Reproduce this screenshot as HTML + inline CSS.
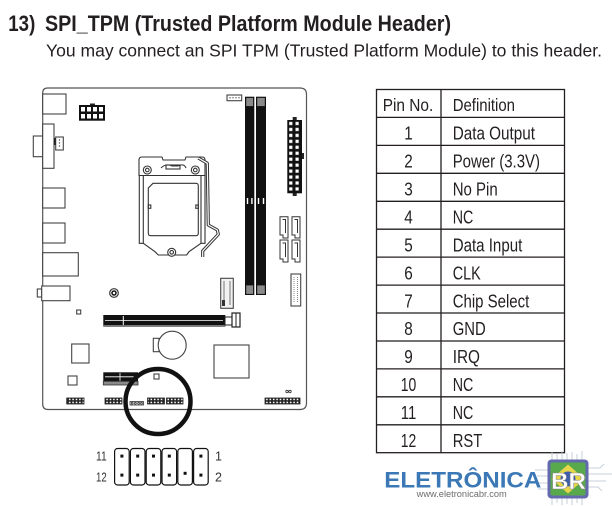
<!DOCTYPE html>
<html><head><meta charset="utf-8"><style>
html,body{margin:0;padding:0;background:#fff;}
svg{display:block}
text{font-family:"Liberation Sans Narrow","Liberation Sans",Arial,sans-serif;fill:#231f20;}
</style></head><body>
<svg width="612" height="506" viewBox="0 0 612 506" xmlns="http://www.w3.org/2000/svg">
<defs>
<pattern id="hp" patternUnits="userSpaceOnUse" x="0" y="398" width="3.4" height="3"><rect width="3.4" height="3" fill="#222"/><rect x="0.9" y="0.7" width="1.6" height="1.5" fill="#fff"/></pattern>
<pattern id="atx" patternUnits="userSpaceOnUse" x="288.6" y="121.3" width="6.3" height="5.95"><rect x="0.6" y="0.6" width="3.2" height="3.2" fill="#fff"/></pattern>
</defs>

<!-- Title -->
<text x="8.3" y="31" font-size="22" font-weight="bold" textLength="27" lengthAdjust="spacingAndGlyphs">13)</text>
<text x="45" y="31" font-size="22" font-weight="bold" textLength="406" lengthAdjust="spacingAndGlyphs">SPI_TPM (Trusted Platform Module Header)</text>
<text x="46" y="56.7" font-size="17.5" textLength="556" lengthAdjust="spacingAndGlyphs">You may connect an SPI TPM (Trusted Platform Module) to this header.</text>

<!-- Board outline -->
<path d="M42.7,93 Q42.7,88 47.7,88 L300,88 Q306.5,88 306.5,94.5 L306.5,403 Q306.5,409.5 300,409.5 L48,409.5 Q42.7,409.5 42.7,404 Z" fill="none" stroke="#555" stroke-width="1.2"/>

<g fill="#fff" stroke="#444" stroke-width="1.1">
<!-- IO -->
<rect x="42.7" y="94" width="23.3" height="20"/>
<rect x="33.3" y="136" width="9.4" height="20.7"/>
<rect x="42.7" y="124" width="11.3" height="44.3"/>
<rect x="55.7" y="137" width="7.6" height="13"/>
<rect x="42.7" y="188" width="22.3" height="20"/>
<rect x="42.7" y="223" width="22.3" height="20"/>
<rect x="42.7" y="252.7" width="35.6" height="23.3"/>
<rect x="37.3" y="289" width="4.4" height="8"/>
<rect x="41.7" y="286" width="28.3" height="14.7"/>
<!-- small squares -->
<rect x="76.7" y="310" width="4" height="4"/>
<rect x="71.7" y="344" width="17.3" height="19"/>
<rect x="68" y="376" width="9" height="9"/>
<rect x="154" y="374" width="5" height="5"/>
<!-- chipset -->
<rect x="214" y="345" width="35" height="33"/>
<!-- battery -->
<rect x="153.3" y="338.3" width="5.7" height="13.4"/>
<circle cx="172.2" cy="345.2" r="14"/>
<!-- top fan -->
<rect x="227" y="95" width="14.7" height="5.7"/>
<!-- USB header right -->
<rect x="291" y="274" width="9.7" height="32"/>
<!-- M.2 -->
<rect x="220.7" y="278.3" width="12.6" height="30" fill="#f2f2f2"/>
</g>
<rect x="54" y="138" width="1.7" height="7" fill="#222"/>
<g fill="#555"><circle cx="59.5" cy="140" r="0.7"/><circle cx="59.5" cy="143" r="0.7"/><circle cx="59.5" cy="146" r="0.7"/></g>
<g fill="#555"><circle cx="230" cy="97.8" r="0.7"/><circle cx="233" cy="97.8" r="0.7"/><circle cx="236" cy="97.8" r="0.7"/><circle cx="239" cy="97.8" r="0.7"/></g>
<line x1="294" y1="277" x2="294" y2="303" stroke="#888" stroke-width="1" stroke-dasharray="1,1"/>
<line x1="297.5" y1="277" x2="297.5" y2="303" stroke="#888" stroke-width="1" stroke-dasharray="1,1"/>
<line x1="224" y1="281" x2="224" y2="305" stroke="#777" stroke-width="1"/>
<line x1="230" y1="281" x2="230" y2="305" stroke="#777" stroke-width="1"/>
<rect x="222" y="300" width="3" height="6" fill="#333"/>

<!-- screw hole -->
<circle cx="114" cy="293" r="4.3" fill="none" stroke="#333" stroke-width="1.2"/>
<circle cx="114" cy="293" r="2" fill="none" stroke="#111" stroke-width="1.5"/>

<!-- 8-pin -->
<rect x="90" y="103.5" width="5" height="2" fill="#222"/>
<rect x="79" y="105" width="26" height="15.7" fill="#111"/>
<g fill="#fff">
<rect x="81" y="107" width="4" height="4.5"/><rect x="87" y="107" width="4" height="4.5"/><rect x="93" y="107" width="4" height="4.5"/><rect x="99" y="107" width="4" height="4.5"/>
<rect x="81" y="114" width="4" height="4.5"/><rect x="87" y="114" width="4" height="4.5"/><rect x="93" y="114" width="4" height="4.5"/><rect x="99" y="114" width="4" height="4.5"/>
</g>

<!-- CPU socket -->
<g fill="none" stroke="#333" stroke-width="1.1">
<path d="M139,175.5 L139,160 Q139,157 142,157 L162,157 L163,160 L185,160 L186,157 L202,157 Q205,157 205,160 L205,175.5 Z" fill="#fff"/>
<path d="M161,168 Q166,163 172,166 L178,166 Q184,163 186,168" />
<rect x="166" y="165" width="14" height="4"/>
<circle cx="147.3" cy="170" r="4"/><circle cx="147.3" cy="170" r="1.8"/>
<circle cx="195.3" cy="170" r="4"/><circle cx="195.3" cy="170" r="1.8"/>
<path d="M139.3,175.5 L139.3,243.3 L143.3,243.3 L155,251.7 L158.3,255 L186.7,255 L189,251.7 L201,243.3 L205,243.3 L205,175.5"/>
<path d="M143.3,175.5 L143.3,243.3 M201,175.5 L201,243.3"/>
<path d="M153,183.3 L196,183.3 Q198.3,183.3 198.3,186 L198.3,233 Q198.3,235.7 196,235.7 L150.5,235.7 Q148.3,235.7 148.3,233 L148.3,188 Z"/>
<rect x="148.3" y="205" width="2.5" height="3.3"/>
<rect x="195.8" y="205" width="2.5" height="3.3"/>
<circle cx="171.7" cy="252.3" r="4" fill="#fff"/><circle cx="171.7" cy="252.3" r="1.8"/>
</g>
<path d="M198.3,158 L207.3,163.3 L208.3,225 L217.3,230 L218.3,234.3 L202.7,251 L202.7,257" fill="none" stroke="#333" stroke-width="3.2" stroke-linejoin="round"/>
<path d="M198.3,158 L207.3,163.3 L208.3,225 L217.3,230 L218.3,234.3 L202.7,251 L202.7,257" fill="none" stroke="#fff" stroke-width="1.2" stroke-linejoin="round"/>

<!-- DIMM -->
<rect x="245" y="96.7" width="9.3" height="198.3" fill="#111"/>
<rect x="256" y="96.7" width="10" height="198.3" fill="#111"/>
<g fill="#8a8a8a" stroke="#111" stroke-width="0.8">
<rect x="245.8" y="97.5" width="7.7" height="9"/><rect x="256.8" y="97.5" width="8.4" height="9"/>
<rect x="245.8" y="285" width="7.7" height="9.3"/><rect x="256.8" y="285" width="8.4" height="9.3"/>
</g>
<g fill="#fff">
<rect x="246.8" y="198" width="1.4" height="6"/><rect x="251.2" y="198" width="1.4" height="6"/>
<rect x="257.8" y="198" width="1.4" height="6"/><rect x="262.8" y="198" width="1.4" height="6"/>
</g>

<!-- ATX 24 -->
<rect x="292.7" y="117" width="4" height="3" fill="#222"/>
<rect x="292.7" y="193" width="4" height="3" fill="#222"/>
<rect x="302" y="153" width="2" height="6" fill="#222"/>
<rect x="287.3" y="120" width="14.7" height="73.3" fill="#111"/>
<rect x="288.6" y="121.3" width="12.6" height="71.4" fill="url(#atx)"/>

<!-- SATA -->
<g fill="#fff" stroke="#333" stroke-width="1">
<path d="M280,216.7 L288,216.7 L288,238 L283,238 L283,235 L280,235 Z"/>
<path d="M292,216.7 L300,216.7 L300,238 L295,238 L295,235 L292,235 Z"/>
<path d="M280,240 L288,240 L288,262 L283,262 L283,259 L280,259 Z"/>
<path d="M292,240 L300,240 L300,262 L295,262 L295,259 L292,259 Z"/>
<path d="M282.5,219.5 L285.5,219.5 L285.5,233 M294.5,219.5 L297.5,219.5 L297.5,233 M282.5,243 L285.5,243 L285.5,257 M294.5,243 L297.5,243 L297.5,257" fill="none"/>
</g>

<!-- PCIe x16 -->
<rect x="103.3" y="315" width="122" height="11.7" fill="#111"/>
<rect x="103.3" y="325" width="122" height="1.7" fill="#777"/>
<line x1="105" y1="320.6" x2="223" y2="320.6" stroke="#fff" stroke-width="0.8"/>
<line x1="123.3" y1="316" x2="123.3" y2="325" stroke="#fff" stroke-width="1"/>
<rect x="225" y="317" width="7" height="8" fill="#fff" stroke="#222" stroke-width="1"/>
<rect x="232" y="313" width="8" height="14" fill="#fff" stroke="#222" stroke-width="1.2"/>
<line x1="236" y1="313" x2="236" y2="327" stroke="#222" stroke-width="1"/>

<!-- PCIe x1 -->
<rect x="103.3" y="372.3" width="34.7" height="9" fill="#111"/>
<line x1="105" y1="376.8" x2="136.5" y2="376.8" stroke="#fff" stroke-width="0.8"/>
<line x1="120" y1="373" x2="120" y2="381" stroke="#fff" stroke-width="0.8"/>
<rect x="103.3" y="381.3" width="34.7" height="3.7" fill="#8a8a8a" stroke="#333" stroke-width="0.8"/>

<!-- bottom headers -->
<g stroke="#222" stroke-width="0.8">
<rect x="66.7" y="398" width="17.3" height="6" fill="url(#hp)"/>
<rect x="105" y="398" width="17" height="6" fill="url(#hp)"/>
<rect x="147.5" y="398" width="17" height="6" fill="url(#hp)"/>
<rect x="166.5" y="398" width="16.5" height="6" fill="url(#hp)"/>
<rect x="265" y="398" width="35" height="6" fill="url(#hp)"/>
</g>
<g fill="none" stroke="#333" stroke-width="0.8">
<rect x="130" y="401.5" width="13.5" height="3.5"/>
<circle cx="132.2" cy="403.2" r="0.9"/><circle cx="135.4" cy="403.2" r="0.9"/><circle cx="138.6" cy="403.2" r="0.9"/><circle cx="141.5" cy="403.2" r="0.9"/>
<circle cx="287" cy="391.5" r="1.2"/><circle cx="290" cy="391.5" r="1.2"/>
</g>

<!-- highlight circle -->
<circle cx="158" cy="401.5" r="32.5" fill="none" stroke="#111" stroke-width="4.5"/>

<!-- pin header diagram -->
<text x="96" y="460.7" font-size="12.5" textLength="10.7" lengthAdjust="spacingAndGlyphs" style="fill:#333">11</text>
<text x="96" y="481.5" font-size="12.5" textLength="10.7" lengthAdjust="spacingAndGlyphs" style="fill:#333">12</text>
<text x="215" y="460.7" font-size="12.5" style="fill:#333">1</text>
<text x="215" y="481.5" font-size="12.5" style="fill:#333">2</text>
<g fill="none" stroke="#111" stroke-width="1.2">
<rect x="114.6" y="448.5" width="14.6" height="36.5" rx="3"/>
<rect x="130.4" y="448.5" width="14.6" height="36.5" rx="3"/>
<rect x="146.2" y="448.5" width="14.6" height="36.5" rx="3"/>
<rect x="162" y="448.5" width="14.6" height="36.5" rx="3"/>
<rect x="177.8" y="448.5" width="14.6" height="36.5" rx="3"/>
<rect x="193.6" y="448.5" width="14.6" height="36.5" rx="3"/>
</g>
<g fill="#111">
<rect x="120.4" y="454.6" width="3" height="3"/><rect x="136.2" y="454.6" width="3" height="3"/><rect x="152" y="454.6" width="3" height="3"/><rect x="167.8" y="454.6" width="3" height="3"/><rect x="199.4" y="454.6" width="3" height="3"/>
<rect x="120.4" y="473.6" width="3" height="3"/><rect x="136.2" y="473.6" width="3" height="3"/><rect x="152" y="473.6" width="3" height="3"/><rect x="167.8" y="473.6" width="3" height="3"/><rect x="183.6" y="471.8" width="3" height="3"/><rect x="199.4" y="473.6" width="3" height="3"/>
</g>

<!-- Table -->
<g stroke="#231f20" stroke-width="1.3" fill="none">
<rect x="376.5" y="89.5" width="188" height="363.2"/>
<line x1="441" y1="89.5" x2="441" y2="452.7"/>
<line x1="376.5" y1="117.4" x2="564.5" y2="117.4"/>
<line x1="376.5" y1="145.4" x2="564.5" y2="145.4"/>
<line x1="376.5" y1="173.3" x2="564.5" y2="173.3"/>
<line x1="376.5" y1="201.3" x2="564.5" y2="201.3"/>
<line x1="376.5" y1="229.2" x2="564.5" y2="229.2"/>
<line x1="376.5" y1="257.1" x2="564.5" y2="257.1"/>
<line x1="376.5" y1="285.1" x2="564.5" y2="285.1"/>
<line x1="376.5" y1="313" x2="564.5" y2="313"/>
<line x1="376.5" y1="341" x2="564.5" y2="341"/>
<line x1="376.5" y1="368.9" x2="564.5" y2="368.9"/>
<line x1="376.5" y1="396.8" x2="564.5" y2="396.8"/>
<line x1="376.5" y1="424.8" x2="564.5" y2="424.8"/>
</g>
<g font-size="17.5">
<text x="382.7" y="111" textLength="50.6" lengthAdjust="spacingAndGlyphs">Pin No.</text>
<text x="452.7" y="111" textLength="62.3" lengthAdjust="spacingAndGlyphs">Definition</text>
</g>
<g font-size="18" text-anchor="middle" lengthAdjust="spacingAndGlyphs">
<text x="408.5" y="139.6" textLength="8.5" lengthAdjust="spacingAndGlyphs">1</text>
<text x="408.5" y="167.6" textLength="8.5" lengthAdjust="spacingAndGlyphs">2</text>
<text x="408.5" y="195.5" textLength="8.5" lengthAdjust="spacingAndGlyphs">3</text>
<text x="408.5" y="223.5" textLength="8.5" lengthAdjust="spacingAndGlyphs">4</text>
<text x="408.5" y="251.4" textLength="8.5" lengthAdjust="spacingAndGlyphs">5</text>
<text x="408.5" y="279.3" textLength="8.5" lengthAdjust="spacingAndGlyphs">6</text>
<text x="408.5" y="307.3" textLength="8.5" lengthAdjust="spacingAndGlyphs">7</text>
<text x="408.5" y="335.2" textLength="8.5" lengthAdjust="spacingAndGlyphs">8</text>
<text x="408.5" y="363.2" textLength="8.5" lengthAdjust="spacingAndGlyphs">9</text>
<text x="408.5" y="391.1" textLength="15.5" lengthAdjust="spacingAndGlyphs">10</text>
<text x="408.5" y="419" textLength="15.5" lengthAdjust="spacingAndGlyphs">11</text>
<text x="408.5" y="447" textLength="15.5" lengthAdjust="spacingAndGlyphs">12</text>
</g>
<g font-size="18">
<text x="452.7" y="139.6" textLength="82.3" lengthAdjust="spacingAndGlyphs">Data Output</text>
<text x="452.7" y="167.6" textLength="87.3" lengthAdjust="spacingAndGlyphs">Power (3.3V)</text>
<text x="452.7" y="195.5" textLength="45" lengthAdjust="spacingAndGlyphs">No Pin</text>
<text x="452.7" y="223.5" textLength="20.6" lengthAdjust="spacingAndGlyphs">NC</text>
<text x="452.7" y="251.4" textLength="69.6" lengthAdjust="spacingAndGlyphs">Data Input</text>
<text x="452.7" y="279.3" textLength="28" lengthAdjust="spacingAndGlyphs">CLK</text>
<text x="452.7" y="307.3" textLength="76.6" lengthAdjust="spacingAndGlyphs">Chip Select</text>
<text x="452.7" y="335.2" textLength="33" lengthAdjust="spacingAndGlyphs">GND</text>
<text x="452.7" y="363.2" textLength="27.3" lengthAdjust="spacingAndGlyphs">IRQ</text>
<text x="452.7" y="391.1" textLength="20.6" lengthAdjust="spacingAndGlyphs">NC</text>
<text x="452.7" y="419" textLength="20.6" lengthAdjust="spacingAndGlyphs">NC</text>
<text x="452.7" y="447" textLength="29.6" lengthAdjust="spacingAndGlyphs">RST</text>
</g>

<!-- Logo -->
<g stroke="#b8c4d4" stroke-width="0.8" fill="none">
<path d="M535,470 L548,470 M537,476 L548,476 M535,483 L548,483 M538,489 L548,489"/>
<path d="M588,468 L600,468 L604,464 M588,474 L612,474 M588,481 L606,481 M588,487 L598,487 L602,491"/>
<path d="M552,452 L552,460 M557,454 L557,460 M562,451 L562,460 M567,453 L567,460 M572,452 L572,460 M577,454 L577,460 M582,451 L582,460"/>
<path d="M552,498 L552,505 M557,498 L557,503 M562,498 L562,505 M567,498 L567,504 M572,498 L572,505 M577,498 L577,503 M582,498 L582,505"/>
</g>
<rect x="547.5" y="459.5" width="41" height="39" rx="4" fill="#6369ad"/>
<rect x="550.5" y="462.5" width="35" height="33" rx="2" fill="#58a94c"/>
<polygon points="568,464.5 584.5,479 568,493.5 551.5,479" fill="#e7d54a"/>
<circle cx="568" cy="479" r="7.5" fill="#3f5ea9"/>
<text x="551" y="489" font-size="23" font-weight="bold" textLength="35" lengthAdjust="spacingAndGlyphs" style="fill:#fff;stroke:#8a8a8a;stroke-width:0.5;font-family:'Liberation Sans',Arial,sans-serif">BR</text>
<text x="384.3" y="487.3" font-size="22" font-weight="bold" textLength="157" lengthAdjust="spacingAndGlyphs" style="fill:#3b78b5;font-family:'Liberation Sans',Arial,sans-serif">ELETRÔNICA</text>
<text x="416.7" y="497" font-size="9" textLength="90" lengthAdjust="spacingAndGlyphs" style="fill:#6d6d6d;font-family:'Liberation Sans',Arial,sans-serif">www.eletronicabr.com</text>
</svg>
</body></html>
